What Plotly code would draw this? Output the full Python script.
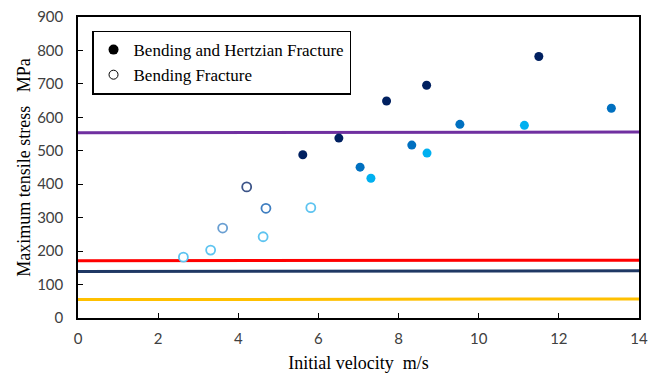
import plotly.graph_objects as go

# Filled markers: Bending and Hertzian Fracture
hz_dark_x = [5.61, 6.51, 7.70, 8.70, 11.50]
hz_dark_y = [488, 538, 649, 696, 782]
hz_mid_x = [7.04, 8.33, 9.53, 13.31]
hz_mid_y = [451, 517, 579, 627]
hz_light_x = [7.31, 8.71, 11.14]
hz_light_y = [418, 493, 576]

# Open markers: Bending Fracture
bf_dark_x = [4.21]
bf_dark_y = [392]
bf_mid_x = [4.69]
bf_mid_y = [328]
bf_steel_x = [3.61]
bf_steel_y = [269]
bf_light_x = [2.63, 3.31, 4.62, 5.81]
bf_light_y = [182, 203, 243, 330]

# Reference horizontal lines (start / end values)
line_x = [0, 14]
purple_y = [554, 556]
red_y = [171, 173]
navy_y = [139, 141]
yellow_y = [55, 57]

x_ticks = [0, 2, 4, 6, 8, 10, 12, 14]
y_ticks = [0, 100, 200, 300, 400, 500, 600, 700, 800, 900]

fig = go.Figure()

for yy, col in [(purple_y, "#7030A0"), (red_y, "#FF0000"), (navy_y, "#1F3864"), (yellow_y, "#FFC000")]:
    fig.add_trace(go.Scatter(x=line_x, y=yy, mode="lines", line=dict(color=col, width=3),
                             showlegend=False, hoverinfo="skip"))

for xs, ys, col in [(hz_dark_x, hz_dark_y, "#002060"), (hz_mid_x, hz_mid_y, "#0070C0"),
                    (hz_light_x, hz_light_y, "#00B0F0")]:
    fig.add_trace(go.Scatter(x=xs, y=ys, mode="markers", showlegend=False,
                             marker=dict(color=col, size=9, line=dict(width=0))))

for xs, ys, col in [(bf_dark_x, bf_dark_y, "#3C5488"), (bf_mid_x, bf_mid_y, "#3F7EC0"),
                    (bf_steel_x, bf_steel_y, "#6A9FD2"), (bf_light_x, bf_light_y, "#5EC4F0")]:
    fig.add_trace(go.Scatter(x=xs, y=ys, mode="markers", showlegend=False,
                             marker=dict(color="white", size=9, line=dict(color=col, width=1.8))))

# legend entries
fig.add_trace(go.Scatter(x=[None], y=[None], mode="markers", name="Bending and Hertzian Fracture",
                         marker=dict(color="black", size=10)))
fig.add_trace(go.Scatter(x=[None], y=[None], mode="markers", name="Bending Fracture",
                         marker=dict(color="white", size=9, line=dict(color="black", width=1))))

fig.update_layout(
    width=650, height=365,
    margin=dict(l=70, r=19, t=9, b=55, autoexpand=False),
    paper_bgcolor="white", plot_bgcolor="white",
    showlegend=True,
    legend=dict(x=0.025, y=0.955, xanchor="left", yanchor="top",
                bordercolor="black", borderwidth=1.5, bgcolor="white",
                font=dict(family="Liberation Serif", size=17, color="black"),
                tracegroupgap=0, itemwidth=30),
    xaxis=dict(range=[0, 14], tickvals=x_ticks, ticks="inside", ticklen=5, tickcolor="black",
               showline=True, linecolor="black", linewidth=1.5, mirror=True, showgrid=False,
               zeroline=False, ticklabelstandoff=6, ticklabeloverflow="allow",
               tickfont=dict(family="Lato", size=15, color="#404040"),
               title=dict(text="Initial velocity  m/s", standoff=14,
                          font=dict(family="Liberation Serif", size=18, color="black"))),
    yaxis=dict(range=[0, 900], tickvals=y_ticks, ticks="inside", ticklen=5, tickcolor="black",
               showline=True, linecolor="black", linewidth=1.5, mirror=True, showgrid=False,
               zeroline=False, ticklabelstandoff=10, ticklabeloverflow="allow",
               tickfont=dict(family="Lato", size=15, color="#404040"),
               title=dict(text="Maximum tensile stress   MPa", standoff=2,
                          font=dict(family="Liberation Serif", size=18, color="black"))),
)

fig.write_html("out.html")
